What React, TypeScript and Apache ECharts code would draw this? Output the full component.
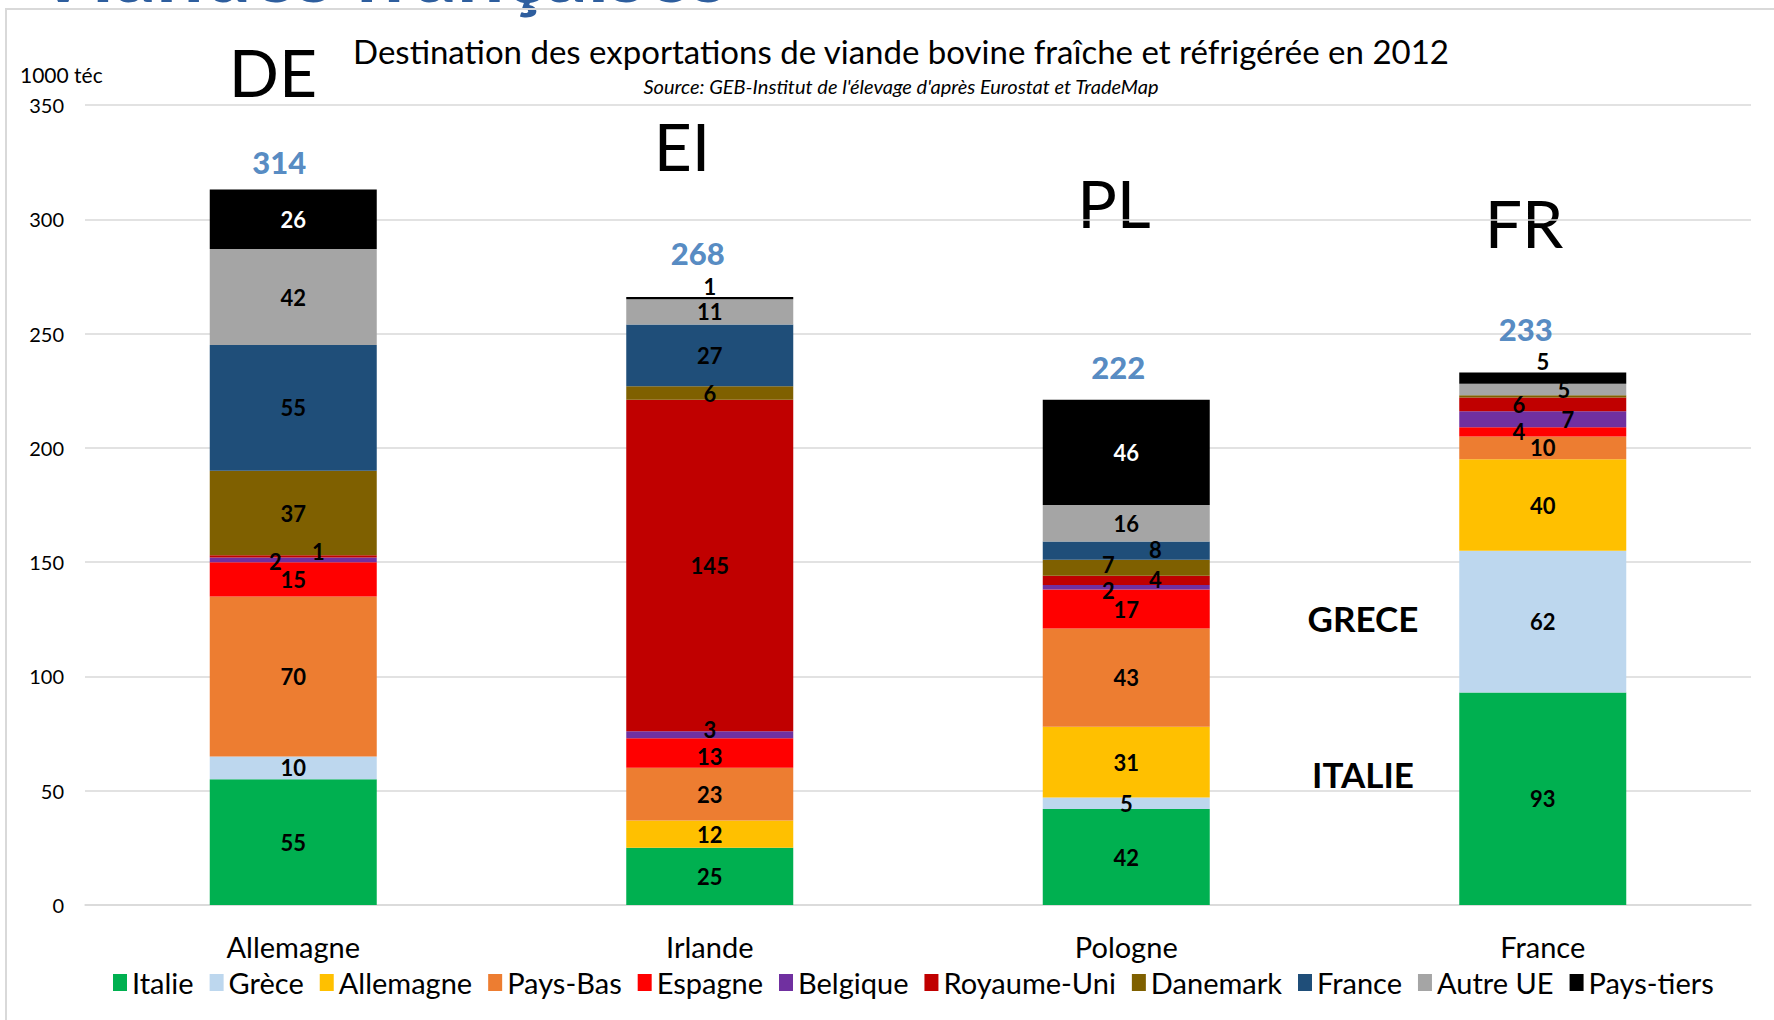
import React, { useEffect, useRef } from "react";
import * as echarts from "echarts";

// ---- Data ----
const categories = ["Allemagne", "Irlande", "Pologne", "France"];
const yTicks = [0, 50, 100, 150, 200, 250, 300, 350];
const destinations = [
  "Italie",
  "Grèce",
  "Allemagne",
  "Pays-Bas",
  "Espagne",
  "Belgique",
  "Royaume-Uni",
  "Danemark",
  "France",
  "Autre UE",
  "Pays-tiers",
];
const italie = [55, 25, 42, 93];
const grece = [10, 0, 5, 62];
const allemagne = [0, 12, 31, 40];
const paysBas = [70, 23, 43, 10];
const espagne = [15, 13, 17, 4];
const belgique = [2, 3, 2, 7];
const royaumeUni = [1, 145, 4, 6];
const danemark = [37, 6, 7, 1];
const france = [55, 27, 8, 0];
const autreUE = [42, 11, 16, 5];
const paysTiers = [26, 1, 46, 5];
const totals = [314, 268, 222, 233];
const countryCodes = ["DE", "EI", "PL", "FR"];

const seriesValues = [
  italie,
  grece,
  allemagne,
  paysBas,
  espagne,
  belgique,
  royaumeUni,
  danemark,
  france,
  autreUE,
  paysTiers,
];

// ---- Styles ----
const colors = [
  "#00b050",
  "#bdd7ee",
  "#ffc000",
  "#ed7d31",
  "#ff0000",
  "#7030a0",
  "#c00000",
  "#7f6000",
  "#1f4e79",
  "#a5a5a5",
  "#000000",
];
const FONT = "Lato";
const labelShift: Record<string, [number, number]> = {
  "Belgique|0": [-18, 2],
  "Royaume-Uni|0": [25, -5],
  "Belgique|1": [0, -5],
  "Espagne|1": [0, 3],
  "Belgique|2": [-18, 3],
  "Royaume-Uni|2": [29, -1],
  "Danemark|2": [-18, -3],
  "France|2": [29, -1],
  "Espagne|3": [-24, 0],
  "Belgique|3": [25, 0],
  "Royaume-Uni|3": [-24, 0],
  "Autre UE|3": [21, 0],
};
const topLabels = new Set(["Pays-tiers|1", "Pays-tiers|3"]);
const whiteLabels = new Set(["Pays-tiers|0", "Pays-tiers|2"]);
const hiddenLabels = new Set(["Danemark|3"]);
const totalOffsets: [number, number][] = [
  [-14, -25],
  [-12, -39],
  [-8, -31],
  [-17, -43],
];
const codePos = [
  [273, 71],
  [682, 145],
  [1114, 202],
  [1524, 222],
];

export default function App() {
  const ref = useRef<HTMLDivElement>(null);
  useEffect(() => {
    if (!ref.current) return;
    const chart = echarts.init(ref.current, null, { renderer: "svg" });

    const barSeries = destinations.map((name, si) => ({
      name,
      type: "bar",
      stack: "total",
      barWidth: 167,
      itemStyle: { color: colors[si] },
      emphasis: { disabled: true },
      data: seriesValues[si].map((v, ci) => {
        const key = name + "|" + ci;
        const show = v > 0 && !hiddenLabels.has(key);
        const isTop = topLabels.has(key);
        return {
          value: v,
          label: {
            show,
            position: isTop ? "top" : "inside",
            distance: isTop ? 0 : 5,
            offset: labelShift[key] || [0, 0],
            color: whiteLabels.has(key) ? "#ffffff" : "#000000",
            fontFamily: FONT,
            fontWeight: "bold",
            fontSize: 22,
          },
        };
      }),
    }));

    const totalSeries = {
      name: "Total",
      type: "scatter",
      symbolSize: 0,
      silent: true,
      data: totals.map((v, i) => ({
        value: v,
        label: {
          show: true,
          position: "inside",
          offset: totalOffsets[i],
          formatter: String(v),
          color: "#2a6db3",
          fontFamily: FONT,
          fontWeight: 900,
          fontSize: 31,
        },
      })),
    };

    const graphics: any[] = [
      {
        type: "text",
        x: 34,
        y: -31,
        style: {
          text: "Viandes françaises",
          fill: "#2e5e9e",
          font: "bold 84px Lato",
          textVerticalAlign: "middle",
        },
        z: 1,
      },
      {
        type: "line",
        shape: { x1: 5, y1: 9, x2: 1774, y2: 9 },
        style: { stroke: "#d9d9d9", lineWidth: 2 },
        z: 2,
      },
      {
        type: "line",
        shape: { x1: 6, y1: 9, x2: 6, y2: 1020 },
        style: { stroke: "#d9d9d9", lineWidth: 2 },
        z: 2,
      },
      {
        type: "text",
        x: 901,
        y: 51,
        style: {
          text: "Destination des exportations de viande bovine fraîche et réfrigérée en 2012",
          fill: "#000",
          font: "33px Lato",
          textAlign: "center",
          textVerticalAlign: "middle",
        },
      },
      {
        type: "text",
        x: 901,
        y: 86,
        style: {
          text: "Source: GEB-Institut de l'élevage d'après Eurostat et TradeMap",
          fill: "#000",
          font: "italic 20px Lato",
          textAlign: "center",
          textVerticalAlign: "middle",
        },
      },
      {
        type: "text",
        x: 20,
        y: 74,
        style: {
          text: "1000 téc",
          fill: "#000",
          font: "21px Lato",
          textAlign: "left",
          textVerticalAlign: "middle",
        },
      },
      ...countryCodes.map((c, i) => ({
        type: "text",
        x: codePos[i][0],
        y: codePos[i][1],
        style: {
          text: c,
          fill: "#000",
          font: "66px Lato",
          textAlign: "center",
          textVerticalAlign: "middle",
        },
      })),
      {
        type: "text",
        x: 1363,
        y: 618,
        style: {
          text: "GRECE",
          fill: "#000",
          font: "bold 35px Lato",
          textAlign: "center",
          textVerticalAlign: "middle",
        },
      },
      {
        type: "text",
        x: 1363,
        y: 774,
        style: {
          text: "ITALIE",
          fill: "#000",
          font: "bold 35px Lato",
          textAlign: "center",
          textVerticalAlign: "middle",
        },
      },
    ];

    chart.setOption({
      animation: false,
      backgroundColor: "#ffffff",
      textStyle: { fontFamily: FONT },
      grid: { left: 85, right: 23, top: 105, height: 800, containLabel: false },
      legend: {
        data: destinations,
        left: 108,
        top: 963,
        itemWidth: 14,
        itemHeight: 17,
        itemGap: 16,
        icon: "rect",
        textStyle: { fontFamily: FONT, fontSize: 29, color: "#000" },
        selectedMode: false,
      },
      xAxis: {
        type: "category",
        data: categories,
        axisTick: { show: false },
        axisLine: { show: true, lineStyle: { color: "#d9d9d9", width: 1.5 } },
        axisLabel: { fontFamily: FONT, fontSize: 29, color: "#000", margin: 27 },
      },
      yAxis: {
        type: "value",
        min: yTicks[0],
        max: yTicks[yTicks.length - 1],
        interval: yTicks[1] - yTicks[0],
        axisLine: { show: false },
        axisTick: { show: false },
        splitLine: { lineStyle: { color: "#d9d9d9", width: 1.5 } },
        axisLabel: { fontFamily: FONT, fontSize: 20, color: "#000", margin: 21 },
      },
      series: [...barSeries, totalSeries],
      graphic: graphics,
    });
    return () => chart.dispose();
  }, []);
  return (
    <div
      ref={ref}
      style={{ position: "fixed", left: 0, top: 0, width: 1774, height: 1020 }}
    />
  );
}
